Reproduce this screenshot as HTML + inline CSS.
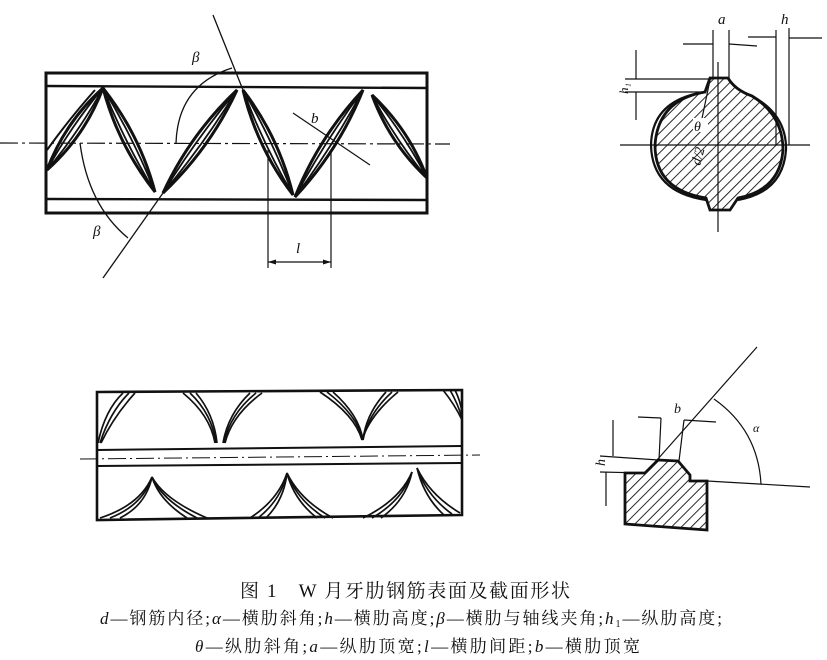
<!DOCTYPE html>
<html><head><meta charset="utf-8"><style>
html,body{margin:0;padding:0;background:#fff;}
svg{display:block}
text{font-family:"Liberation Serif","Noto Serif CJK SC",serif;fill:#111}
</style></head><body>
<svg width="827" height="660" viewBox="0 0 827 660" xmlns="http://www.w3.org/2000/svg">
<defs>
<pattern id="hat" width="7" height="7" patternUnits="userSpaceOnUse" patternTransform="rotate(45)">
<line x1="0" y1="0" x2="0" y2="7" stroke="#111" stroke-width="1.8"/>
</pattern>
</defs>
<g fill="none" stroke="#111">
<rect x="46" y="73" width="381" height="140" stroke-width="3"/>
<line x1="46" y1="86" x2="427" y2="88" stroke-width="2.4"/>
<line x1="46" y1="199" x2="427" y2="200" stroke-width="2.4"/>
<line x1="0" y1="143" x2="450" y2="144" stroke-width="1.2" stroke-dasharray="18,4,3,4"/>
<g stroke-width="3">
<path d="M47,170 Q85,136 103,88 Q65,122 47,170Z"/>
<path d="M103,88 Q140,135 155,192 Q118,145 103,88Z"/>
<path d="M163,193 Q210,148.5 237,90 Q190,134.5 163,193Z"/>
<path d="M243,90 Q279,137 293,195 Q257,148 243,90Z"/>
<path d="M295,197 Q339,150 363,90 Q319,137 295,197Z"/>
<path d="M372,95 Q409.5,130 427,178 Q389.5,143 372,95Z"/>
</g>
<g stroke-width="1.8">
<path d="M47,170 Q79,132 103,88 Q71,126 47,170Z"/>
<path d="M103,88 Q133.5,138 155,192 Q124.5,142 103,88Z"/>
<path d="M163,193 Q204,144 237,90 Q196,139 163,193Z"/>
<path d="M243,90 Q272.5,140 293,195 Q263.5,145 243,90Z"/>
<path d="M295,197 Q333,146 363,90 Q325,141 295,197Z"/>
<path d="M372,95 Q404,134 427,178 Q395,139 372,95Z"/>
</g>
<path d="M47,150 Q70,118 95,90" stroke-width="2"/>
<line x1="213" y1="15" x2="243" y2="90" stroke-width="1.3"/>
<line x1="163" y1="193" x2="103" y2="278" stroke-width="1.3"/>
<path d="M176,143 Q178,85 232,68" stroke-width="1.3"/>
<path d="M80,143 Q88,205 128,238" stroke-width="1.3"/>
<line x1="293" y1="113" x2="370" y2="165" stroke-width="1.2"/>
<line x1="268" y1="150" x2="268" y2="268" stroke-width="1.2"/>
<line x1="331" y1="150" x2="331" y2="268" stroke-width="1.2"/>
<line x1="268" y1="262" x2="331" y2="262" stroke-width="1.2"/>
</g>
<path d="M268,262 l8,-2.5 v5z M331,262 l-8,-2.5 v5z" fill="#111"/>
<text x="192" y="62" font-size="15" font-style="italic">β</text>
<text x="93" y="236" font-size="15" font-style="italic">β</text>
<text x="311" y="123" font-size="15" font-style="italic">b</text>
<text x="296" y="253" font-size="15" font-style="italic">l</text>

<g stroke="#111">
<path d="M710,78 L728,78 Q735,90 752,96 Q783,115 783,150 Q780,190 738,198 L730,210 L710,210 L706,198 Q655,190 655,145 Q658,100 705,92 Z" fill="url(#hat)" stroke-width="2.8"/>
<path d="M705,92 Q652,100 651,145 Q652,192 706,200" fill="none" stroke-width="2.2"/>
<path d="M752,96 Q787,115 786,150 Q783,192 738,200" fill="none" stroke-width="2.2"/>
<g fill="none" stroke-width="1.2">
<line x1="620" y1="145" x2="810" y2="145"/>
<line x1="718" y1="62" x2="718" y2="232"/>
<line x1="713" y1="30" x2="713" y2="78"/>
<line x1="729" y1="30" x2="729" y2="78"/>
<line x1="683" y1="44" x2="713" y2="44"/>
<line x1="729" y1="44" x2="757" y2="46"/>
<line x1="776" y1="30" x2="776" y2="145"/>
<line x1="789" y1="28" x2="789" y2="145"/>
<line x1="748" y1="37" x2="776" y2="37"/>
<line x1="789" y1="38" x2="822" y2="38"/>
<line x1="625" y1="79" x2="712" y2="79"/>
<line x1="625" y1="92" x2="700" y2="92"/>
<line x1="636" y1="50" x2="636" y2="79"/>
<line x1="636" y1="92" x2="636" y2="120"/>
<line x1="710" y1="80" x2="700" y2="128"/>
</g>
</g>
<rect x="693" y="118" width="15" height="14" fill="#fff"/>
<text x="718" y="24" font-size="15" font-style="italic">a</text>
<text x="781" y="24" font-size="15" font-style="italic">h</text>
<text x="618" y="92" font-size="13" font-style="italic" transform="rotate(-90 624 88)">h₁</text>
<text x="694" y="131" font-size="14" font-style="italic">θ</text>
<text x="690" y="163" font-size="14" font-style="italic" transform="rotate(-75 697 158)">d/2</text>

<g fill="none" stroke="#111">
<path d="M97,392 L462,390 L462,515 L97,520 Z" stroke-width="2.6"/>
<line x1="97" y1="450" x2="462" y2="446" stroke-width="2"/>
<line x1="97" y1="466" x2="462" y2="463" stroke-width="2"/>
<line x1="80" y1="459" x2="480" y2="455" stroke-width="1" stroke-dasharray="18,4,2,4"/>
<g stroke-width="1.7">
<path d="M123,393 Q105,410 98,443"/><path d="M129,393 Q110,412 100,443"/><path d="M135,393 Q114,416 101,443"/>
<path d="M183,393 Q210,415 215,443"/><path d="M190,393 Q212,414 216,443"/><path d="M196,393 Q214,414 217,443"/>
<path d="M262,393 Q232,415 225,443"/><path d="M256,393 Q230,414 224,443"/><path d="M250,393 Q228,414 223,443"/>
<path d="M320,392 Q355,415 362,440"/><path d="M327,392 Q357,415 363,440"/><path d="M333,392 Q359,415 363,440"/>
<path d="M398,392 Q370,415 362,440"/><path d="M392,392 Q368,414 363,440"/><path d="M386,392 Q366,414 363,440"/>
<path d="M443,390 Q455,405 462,420"/><path d="M450,390 Q458,404 462,418"/><path d="M455,390 Q460,400 462,412"/>
<path d="M100,518 Q140,505 152,477"/><path d="M110,518 Q143,505 152,477"/><path d="M120,518 Q146,505 152,477"/>
<path d="M207,518 Q165,500 152,477"/><path d="M197,518 Q162,500 152,477"/><path d="M187,518 Q159,500 152,477"/>
<path d="M250,518 Q278,500 287,473"/><path d="M258,518 Q281,500 287,473"/><path d="M266,518 Q284,500 287,473"/>
<path d="M333,518 Q300,500 287,473"/><path d="M325,518 Q297,500 287,473"/><path d="M317,518 Q294,500 287,473"/>
<path d="M363,518 Q400,500 412,472"/><path d="M372,518 Q403,500 412,472"/><path d="M381,518 Q406,500 412,472"/>
<path d="M460,513 Q430,495 417,468"/><path d="M452,514 Q427,496 417,468"/><path d="M444,515 Q424,497 417,468"/>
</g>
</g>

<g stroke="#111">
<path d="M625,473 L645,473 L658,460 L678,461 L690,475 L690,481 L707,481 L707,530 L625,524 Z" fill="url(#hat)" stroke-width="2.8"/>
<g fill="none" stroke-width="1.2">
<line x1="600" y1="456" x2="658" y2="460"/>
<line x1="600" y1="472" x2="645" y2="473"/>
<line x1="707" y1="481" x2="810" y2="487"/>
<line x1="657" y1="460" x2="757" y2="347"/>
<line x1="659" y1="460" x2="661" y2="418"/>
<line x1="679" y1="461" x2="684" y2="420"/>
<line x1="638" y1="417" x2="661" y2="418"/>
<line x1="684" y1="420" x2="716" y2="422"/>
<line x1="613" y1="420" x2="613" y2="456"/>
<line x1="606" y1="472" x2="606" y2="506"/>
<path d="M714,399 Q758,430 761,484"/>
</g>
</g>
<text x="674" y="413" font-size="14" font-style="italic">b</text>
<text x="753" y="432" font-size="12" font-style="italic">α</text>
<text x="596" y="467" font-size="14" font-style="italic" transform="rotate(-90 600 462)">h</text>

<text x="240" y="597" font-size="19" textLength="330" lengthAdjust="spacing">图 1　W 月牙肋钢筋表面及截面形状</text>
<text x="100" y="624" font-size="17" textLength="622" lengthAdjust="spacing"><tspan font-style="italic">d</tspan>—钢筋内径;<tspan font-style="italic">α</tspan>—横肋斜角;<tspan font-style="italic">h</tspan>—横肋高度;<tspan font-style="italic">β</tspan>—横肋与轴线夹角;<tspan font-style="italic">h</tspan><tspan font-size="10" dy="3">1</tspan><tspan dy="-3">—纵肋高度;</tspan></text>
<text x="195" y="652" font-size="17" textLength="445" lengthAdjust="spacing"><tspan font-style="italic">θ</tspan>—纵肋斜角;<tspan font-style="italic">a</tspan>—纵肋顶宽;<tspan font-style="italic">l</tspan>—横肋间距;<tspan font-style="italic">b</tspan>—横肋顶宽</text>
</svg>
</body></html>
